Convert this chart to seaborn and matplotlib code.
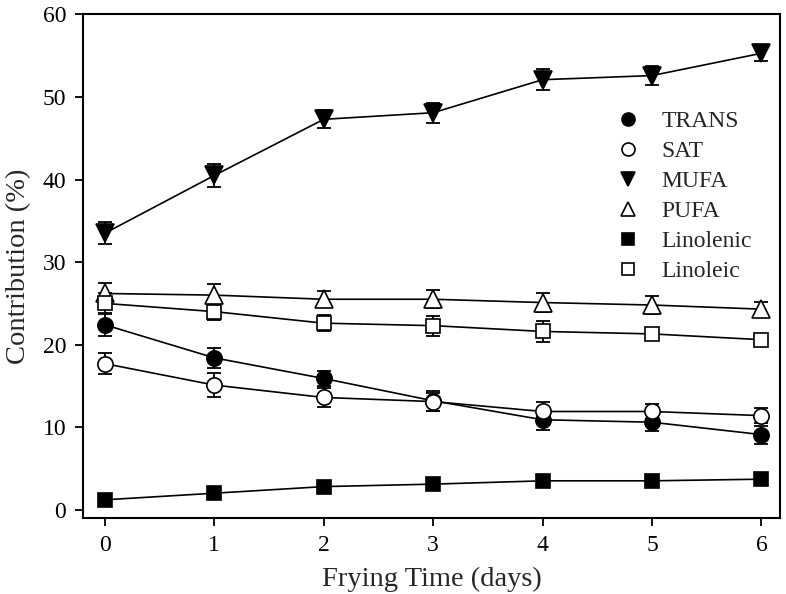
import numpy as np
import pandas as pd
import matplotlib
matplotlib.use("Agg")
import matplotlib.pyplot as plt
import seaborn as sns
from matplotlib.lines import Line2D

sns.set_theme(style="ticks")
plt.rcParams['font.family'] = ['Liberation Serif', 'DejaVu Serif']
plt.rcParams['mathtext.fontset'] = 'stix'

days = [0, 1, 2, 3, 4, 5, 6]
series_names = ["TRANS", "SAT", "MUFA", "PUFA", "Linolenic", "Linoleic"]
trans = [22.4, 18.4, 15.9, 13.2, 10.9, 10.6, 9.1]
trans_err = [1.3, 1.2, 0.9, 1.2, 1.3, 1.1, 1.1]
sat = [17.7, 15.1, 13.6, 13.1, 11.9, 11.9, 11.4]
sat_err = [1.3, 1.5, 1.2, 1.1, 1.2, 0.9, 0.9]
mufa = [33.5, 40.5, 47.3, 48.1, 52.1, 52.6, 55.3]
mufa_err = [1.3, 1.4, 1.1, 1.2, 1.25, 1.1, 0.9]
pufa = [26.2, 26.0, 25.5, 25.5, 25.1, 24.8, 24.3]
pufa_err = [1.3, 1.3, 1.0, 1.1, 1.2, 1.1, 0.9]
linolenic = [1.2, 2.0, 2.8, 3.1, 3.5, 3.5, 3.7]
linolenic_err = [0.2, 0.2, 0.2, 0.2, 0.2, 0.2, 0.2]
linoleic = [25.0, 24.0, 22.6, 22.3, 21.6, 21.3, 20.6]
linoleic_err = [1.2, 1.0, 1.0, 1.2, 1.25, 0.6, 0.3]

values = [trans, sat, mufa, pufa, linolenic, linoleic]
errors = [trans_err, sat_err, mufa_err, pufa_err, linolenic_err, linoleic_err]
markers = ["o", "o", "v", "^", "s", "s"]
faces = ["black", "white", "black", "white", "black", "white"]
msizes = [11, 11, 12.5, 12.5, 10.5, 10.5]

fig = plt.figure(figsize=(7.86, 5.94), dpi=100)
ax = fig.add_axes([0.1056, 0.128, 0.8868, 0.8476])

for name, v, e, m, fc, ms in zip(series_names, values, errors, markers, faces, msizes):
    df = pd.DataFrame({"day": days, "val": v})
    ax.errorbar(days, v, yerr=e, fmt="none", ecolor="black", elinewidth=1.3,
                capsize=4.8, capthick=1.3, zorder=2)
    sns.lineplot(data=df, x="day", y="val", ax=ax, color="black", lw=1.2,
                 marker=m, markersize=ms, markerfacecolor=fc,
                 markeredgecolor="black", markeredgewidth=1.2, zorder=3,
                 legend=False)

ax.set_xlim(-0.2, 6.17)
ax.set_ylim(-1, 60)
ax.set_xticks(days)
ax.set_yticks([0, 10, 20, 30, 40, 50, 60])
ax.tick_params(axis="both", direction="out", length=6, width=1.3, pad=6,
               labelsize=17, colors="black", top=False, right=False)
for s in ax.spines.values():
    s.set_linewidth(1.5)
    s.set_color("black")
ax.set_xlabel("Frying Time (days)", fontsize=20.5, labelpad=8)
ax.set_ylabel("Contribution (%)", fontsize=20.5, labelpad=8)

handles = [Line2D([], [], linestyle="none", marker=m, markersize=ms * 0.85,
                  markerfacecolor=fc, markeredgecolor="black", markeredgewidth=1.2)
           for m, fc, ms in zip(markers, faces, msizes)]
ax.legend(handles, series_names, loc="upper left",
          bbox_to_anchor=(604 / 786, 1 - 99 / 594), bbox_transform=fig.transFigure,
          frameon=False, fontsize=17, handlelength=1.0, handletextpad=0.92,
          labelspacing=0.36, borderpad=0)

fig.savefig("out.png", dpi=100)
